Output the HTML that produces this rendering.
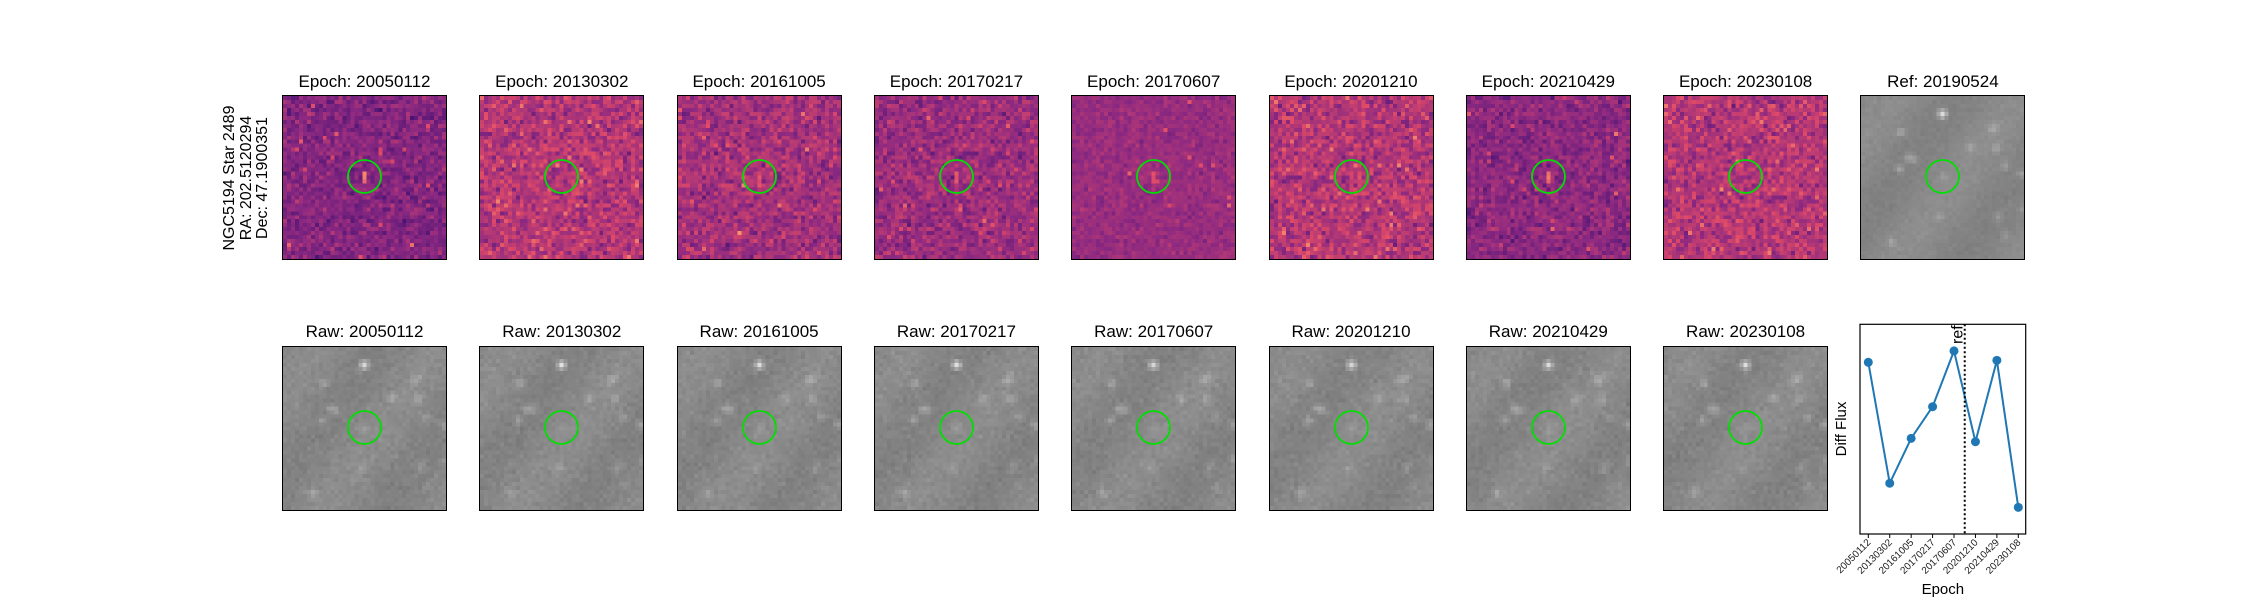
<!DOCTYPE html>
<html><head><meta charset="utf-8"><style>
body{margin:0;background:#fff;width:2250px;height:600px;overflow:hidden;position:relative;font-family:"Liberation Sans","DejaVu Sans",sans-serif}
.t{position:absolute;font-size:17px;color:#000;text-align:center;width:240px;white-space:nowrap}
canvas{position:absolute;border:1.3px solid #000;box-sizing:border-box}
</style></head><body>
<div id="root"></div>
<div style="position:absolute;left:146px;top:154px;width:200px;height:48px;transform:rotate(-90deg);transform-origin:center;font-size:16px;line-height:16.5px;text-align:center;white-space:nowrap">NGC5194 Star 2489<br>RA: 202.5120294<br>Dec: 47.1900351</div>
<svg id="lc" width="2250" height="600" style="position:absolute;left:0;top:0;pointer-events:none"></svg>
<script>
const epochs=["20050112","20130302","20161005","20170217","20170607","20201210","20210429","20230108"];
const diffFlux=[81.9,24.2,45.6,60.7,87.3,44.0,82.8,12.7];
const refPos=[4.5];
const refLabel=["ref"];
const noiseLevel=[0.7,1.0,0.9,0.85,0.45,1.0,0.75,0.95];
const meanLevel=[0.38,0.5,0.46,0.44,0.43,0.5,0.4,0.5];
const srcBoost=[0.3,0,0.12,0.15,0.2,0.05,0.3,0];

let seed=12345;function rnd(){seed=(seed*1103515245+12345)&0x7fffffff;return seed/0x7fffffff;}
function gauss(){return (rnd()+rnd()+rnd()+rnd()-2)*0.85;}
const magma=[[0,[0,0,4]],[0.2,[59,15,112]],[0.4,[140,41,129]],[0.6,[222,73,104]],[0.8,[254,159,109]],[1,[252,253,191]]];
function cmap(v){v=Math.max(0,Math.min(1,v));for(let i=1;i<magma.length;i++){if(v<=magma[i][0]){const a=magma[i-1],b=magma[i];const f=(v-a[0])/(b[0]-a[0]);return a[1].map((c,k)=>Math.round(c+(b[1][k]-c)*f));}}return magma[5][1];}
const root=document.getElementById('root');
const X0=282,DX=197.3,S=165,N=41;
function title(txt,x,y,name){const d=document.createElement('div');d.className='t';d.textContent=txt;d.style.left=(x+S/2-120)+'px';d.style.top=y+'px';


root.appendChild(d);}
function circle(x,y,name){const s=document.createElementNS('http://www.w3.org/2000/svg','svg');s.setAttribute('width',S);s.setAttribute('height',S);s.style.cssText='position:absolute;left:'+x+'px;top:'+y+'px';


s.innerHTML='<circle cx="'+(S/2)+'" cy="'+(S/2-1)+'" r="16.5" fill="none" stroke="#00e000" stroke-width="1.8"/>';root.appendChild(s);}
const stars=[];for(let i=0;i<16;i++)stars.push([rnd()*N,rnd()*N,0.04+rnd()*0.1]);stars.push([20,4,0.35]);stars.push([20,20,0.06]);
function panel(x,y,kind,i,name){const c=document.createElement('canvas');c.width=N;c.height=N;c.style.left=x+'px';c.style.top=y+'px';c.style.width=S+'px';c.style.height=S+'px';c.style.imageRendering='pixelated';


const g=c.getContext('2d');const im=g.createImageData(N,N);
for(let r=0;r<N;r++)for(let q=0;q<N;q++){let rgb;
if(kind==='diff'){let v=meanLevel[i]+gauss()*0.14*noiseLevel[i];
 if(rnd()<0.01*noiseLevel[i])v+=0.2;
 if(Math.abs(q-20)<1&&Math.abs(r-20)<1.5)v+=srcBoost[i];
 rgb=cmap(v);}
else{let v=0.53+gauss()*(kind==='ref'?0.018:0.03);for(const s of stars){const d2=(q-s[0])**2+(r-s[1])**2;v+=s[2]*Math.exp(-d2/1.2);}v+=0.025*Math.sin(q*0.2+r*0.15);
 const k=Math.round(Math.max(0,Math.min(1,v))*255);rgb=[k,k,k];}
const o=(r*N+q)*4;im.data[o]=rgb[0];im.data[o+1]=rgb[1];im.data[o+2]=rgb[2];im.data[o+3]=255;}
g.putImageData(im,0,0);root.appendChild(c);}
for(let i=0;i<8;i++){const x=X0+DX*i;
 title('Epoch: '+epochs[i],x,72,'diff-title-'+epochs[i]);panel(x,95,'diff',i,'diff-image-'+epochs[i]);circle(x,95,'target-circle');
 title('Raw: '+epochs[i],x,322,'raw-title-'+epochs[i]);panel(x,346,'raw',i,'raw-image-'+epochs[i]);circle(x,346,'target-circle');}
title('Ref: 20190524',X0+DX*8,72,'ref-title');panel(X0+DX*8,95,'ref',0,'ref-image');circle(X0+DX*8,95,'target-circle');

const svg=document.getElementById('lc');const NS='http://www.w3.org/2000/svg';
const ax={l:1860,r:2025.7,t:324.3,b:534};
const xs=i=>1868.3+i*(2018.3-1868.3)/7;
const ys=v=>ax.b-(v/100)*(ax.b-ax.t);
function el(t,a,name){const e=document.createElementNS(NS,t);for(const k in a)e.setAttribute(k,a[k]);


svg.appendChild(e);return e;}
el('rect',{x:ax.l,y:ax.t,width:ax.r-ax.l,height:ax.b-ax.t,fill:'none',stroke:'#000','stroke-width':1.2},'plot-frame');
el('polyline',{points:diffFlux.map((v,i)=>xs(i)+','+ys(v)).join(' '),fill:'none',stroke:'#1f77b4','stroke-width':2},'flux-line');
diffFlux.forEach((v,i)=>{el('circle',{cx:xs(i),cy:ys(v),r:4.5,fill:'#1f77b4'},'flux-point-'+epochs[i]);});
const rx=xs(refPos[0]);
el('line',{x1:rx,x2:rx,y1:ax.t,y2:ax.b,stroke:'#000','stroke-width':2,'stroke-dasharray':'2,2.5'},'ref-line');
const rt=el('text',{x:0,y:0,'font-size':16,transform:'translate('+(rx-2)+','+(ax.t+1)+') rotate(-90)','text-anchor':'end','font-family':'Liberation Sans, sans-serif'},'ref-label');rt.textContent=refLabel[0];
epochs.forEach((e,i)=>{const x=xs(i);el('line',{x1:x,x2:x,y1:ax.b,y2:ax.b+4,stroke:'#000'},'x-tick');
 const t=el('text',{transform:'translate('+(x+3)+','+(ax.b+9)+') rotate(-45)','text-anchor':'end','font-size':10,'font-family':'Liberation Sans, sans-serif',fill:'#222'},'x-tick-label');t.textContent=e;});
const yl=el('text',{transform:'translate(1846,429) rotate(-90)','text-anchor':'middle','font-size':15,'font-family':'Liberation Sans, sans-serif'},'y-axis-title');yl.textContent='Diff Flux';
const xl=el('text',{x:(ax.l+ax.r)/2,y:594,'text-anchor':'middle','font-size':15,'font-family':'Liberation Sans, sans-serif'},'x-axis-title');xl.textContent='Epoch';
</script>
</body></html>
